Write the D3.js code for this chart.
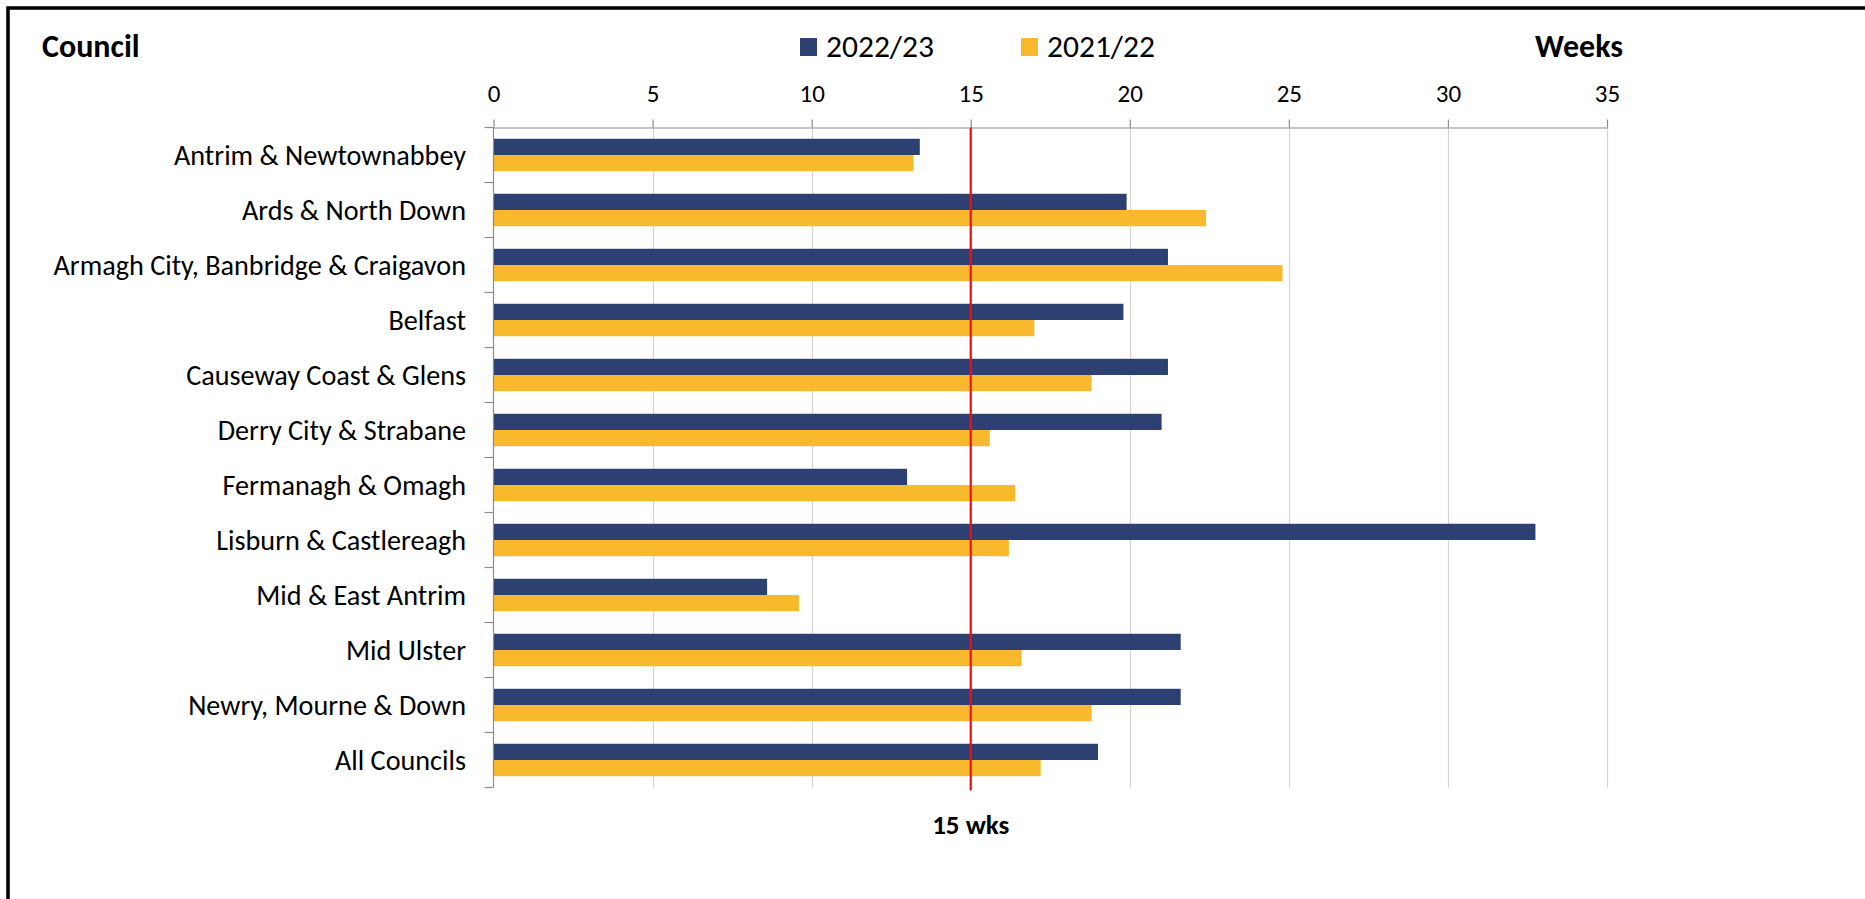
<!DOCTYPE html>
<html>
<head>
<meta charset="utf-8">
<script src="https://cdn.jsdelivr.net/npm/d3@7"></script>
<style>
  body { margin: 0; background: #fff; }
  svg text { font-family: Carlito, Calibri, "Open Sans", sans-serif; fill: #000; }
</style>
</head>
<body>
<div id="chart"></div>
<script>
var councils = ["Antrim & Newtownabbey", "Ards & North Down", "Armagh City, Banbridge & Craigavon",
  "Belfast", "Causeway Coast & Glens", "Derry City & Strabane", "Fermanagh & Omagh",
  "Lisburn & Castlereagh", "Mid & East Antrim", "Mid Ulster", "Newry, Mourne & Down", "All Councils"];
var weeks2223 = [13.4, 19.9, 21.2, 19.8, 21.2, 21.0, 13.0, 32.75, 8.6, 21.6, 21.6, 19.0];
var weeks2122 = [13.2, 22.4, 24.8, 17.0, 18.8, 15.6, 16.4, 16.2, 9.6, 16.6, 18.8, 17.2];
var seriesNames = ["2022/23", "2021/22"];
var xTicks = [0, 5, 10, 15, 20, 25, 30, 35];
var target = 15;

var colors = ["#2C4172", "#F9B92C"];
var width = 1865, height = 899;
var margin = { top: 127.5, left: 493.5, right: 258, bottom: 111.5 };

var svg = d3.select("#chart").append("svg")
  .attr("width", width)
  .attr("height", height);

/* frame */
svg.append("path")
  .attr("d", "M8,905V8H1875")
  .attr("fill", "none")
  .attr("stroke", "#000")
  .attr("stroke-width", 3.5);

var x = d3.scaleLinear()
  .domain([0, 35])
  .range([margin.left, width - margin.right]);

var y = d3.scaleBand()
  .domain(councils)
  .range([margin.top, height - margin.bottom])
  .paddingInner(0.41)
  .paddingOuter(0.205);

var sub = d3.scaleBand()
  .domain(seriesNames)
  .range([0, y.bandwidth()]);

var y0 = margin.top, y1 = height - margin.bottom;

/* gridlines */
svg.append("g")
  .selectAll("line")
  .data(xTicks.slice(1))
  .enter().append("line")
  .attr("x1", function(d) { return Math.round(x(d)) + 0.5; })
  .attr("x2", function(d) { return Math.round(x(d)) + 0.5; })
  .attr("y1", y0)
  .attr("y2", y1)
  .attr("stroke", "#D4D4D4")
  .attr("stroke-width", 1.2);

/* top axis */
var xAxis = svg.append("g")
  .attr("transform", "translate(0," + y0 + ")")
  .call(d3.axisTop(x).tickValues(xTicks).tickSizeInner(8).tickSizeOuter(0).tickPadding(18));
xAxis.select(".domain").attr("stroke", "#8C8C8C").attr("stroke-width", 1.2);
xAxis.selectAll(".tick line").attr("stroke", "#8C8C8C").attr("stroke-width", 1.2);
xAxis.selectAll(".tick text")
  .attr("font-size", "25px")
  .attr("font-family", "Carlito, Calibri, 'Open Sans', sans-serif");

/* bars */
var rows = councils.map(function(c, i) {
  return { council: c, values: [weeks2223[i], weeks2122[i]] };
});
var group = svg.append("g").selectAll("g")
  .data(rows)
  .enter().append("g")
  .attr("transform", function(d) { return "translate(0," + y(d.council) + ")"; });
group.selectAll("rect")
  .data(function(d) { return d.values.map(function(v, j) { return { s: seriesNames[j], v: v, j: j }; }); })
  .enter().append("rect")
  .attr("x", x(0))
  .attr("y", function(d) { return sub(d.s); })
  .attr("width", function(d) { return x(d.v) - x(0); })
  .attr("height", sub.bandwidth())
  .attr("fill", function(d) { return colors[d.j]; });

/* left axis with ticks between categories */
var step = y.step();
var gy = svg.append("g");
gy.append("line")
  .attr("x1", x(0)).attr("x2", x(0))
  .attr("y1", y0).attr("y2", y1)
  .attr("stroke", "#8C8C8C").attr("stroke-width", 1.2);
gy.selectAll(".sep")
  .data(d3.range(councils.length + 1))
  .enter().append("line")
  .attr("class", "sep")
  .attr("x1", x(0) - 9).attr("x2", x(0))
  .attr("y1", function(i) { return y0 + i * step; })
  .attr("y2", function(i) { return y0 + i * step; })
  .attr("stroke", "#8C8C8C").attr("stroke-width", 1.2);
gy.selectAll("text")
  .data(councils)
  .enter().append("text")
  .attr("x", 466)
  .attr("y", function(d) { return y(d) + y.bandwidth() / 2; })
  .attr("dy", "0.35em")
  .attr("text-anchor", "end")
  .attr("font-size", "28.2px")
  .text(function(d) { return d; });

/* 15 week target line */
svg.append("line")
  .attr("x1", x(target)).attr("x2", x(target))
  .attr("y1", y0).attr("y2", y1 + 3)
  .attr("stroke", "#F01010")
  .attr("stroke-width", 2.2);
svg.append("text")
  .attr("x", x(target))
  .attr("y", 834)
  .attr("text-anchor", "middle")
  .attr("font-size", "27px")
  .attr("font-weight", "bold")
  .text(target + " wks");

/* titles */
svg.append("text")
  .attr("x", 42).attr("y", 57)
  .attr("font-size", "32px")
  .attr("font-weight", "bold")
  .text("Council");
svg.append("text")
  .attr("x", 1623).attr("y", 57)
  .attr("text-anchor", "end")
  .attr("font-size", "32px")
  .attr("font-weight", "bold")
  .text("Weeks");

/* legend */
var legendX = [800, 1021];
var legend = svg.append("g").selectAll("g")
  .data(seriesNames)
  .enter().append("g")
  .attr("transform", function(d, i) { return "translate(" + legendX[i] + ",38)"; });
legend.append("rect")
  .attr("width", 17).attr("height", 18)
  .attr("fill", function(d, i) { return colors[i]; });
legend.append("text")
  .attr("x", 26).attr("y", 19)
  .attr("font-size", "31.5px")
  .text(function(d) { return d; });
</script>
</body>
</html>
